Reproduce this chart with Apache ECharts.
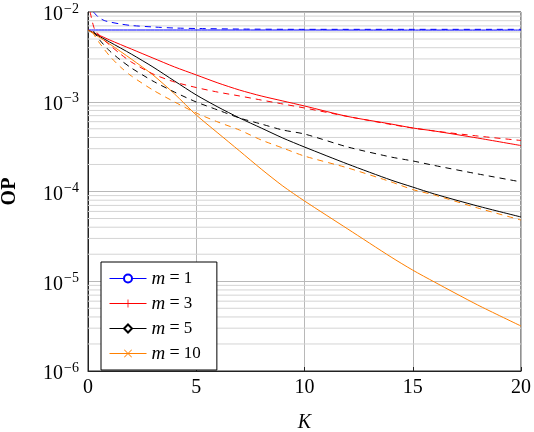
<!DOCTYPE html>
<html>
<head>
<meta charset="utf-8">
<script src="https://cdn.jsdelivr.net/npm/echarts@6/dist/echarts.min.js"></script>
<style>
html,body{margin:0;padding:0;background:#fff;}
#chart{width:534px;height:432px;}
</style>
</head>
<body>
<div id="chart"></div>
<script>
// ---- data ----
const legendNames = ['m = 1', 'm = 3', 'm = 5', 'm = 10'];
const xTicks = [0, 5, 10, 15, 20];
const yTicks = [1e-6, 1e-5, 1e-4, 1e-3, 1e-2];
const minorMantissas = [2, 3, 4, 5, 6, 7, 8, 9];

// solid curves
const kM1Solid = [0, 5, 10, 15, 20];
const m1Solid = [6.3e-3, 6.3e-3, 6.3e-3, 6.29e-3, 6.29e-3];
const kSolid = [0, 1, 2, 3, 4, 5, 6, 7, 8, 9, 10, 12, 14, 15, 16, 18, 20];
const m3Solid = [6.30e-3, 4.88e-3, 3.87e-3, 3.07e-3, 2.44e-3, 1.99e-3, 1.62e-3, 1.35e-3, 1.16e-3, 1.02e-3, 8.97e-4, 6.85e-4, 5.65e-4, 5.10e-4, 4.72e-4, 3.94e-4, 3.25e-4];
const m5Solid = [6.30e-3, 4.63e-3, 3.40e-3, 2.44e-3, 1.70e-3, 1.19e-3, 8.74e-4, 6.59e-4, 5.10e-4, 3.94e-4, 3.13e-4, 2.02e-4, 1.34e-4, 1.12e-4, 9.38e-5, 6.89e-5, 5.20e-5];
const m10Solid = [6.30e-3, 4.40e-3, 2.99e-3, 1.99e-3, 1.22e-3, 7.12e-4, 4.48e-4, 2.83e-4, 1.78e-4, 1.15e-4, 7.84e-5, 3.82e-5, 1.86e-5, 1.33e-5, 9.81e-6, 5.44e-6, 3.17e-6];

// dashed curves
const kM1Dashed = [0.25, 0.5, 0.75, 1, 1.5, 2, 3, 4, 5, 7, 10, 15, 20];
const m1Dashed = [1.0e-2, 8.68e-3, 8.04e-3, 7.74e-3, 7.35e-3, 7.07e-3, 6.81e-3, 6.63e-3, 6.55e-3, 6.46e-3, 6.41e-3, 6.41e-3, 6.41e-3];
const kM3Dashed = [0.1, 0.3, 0.6, 1, 1.5, 2, 3, 4, 5, 6, 7, 8, 9, 10, 12, 14, 15, 16, 18, 20];
const m3Dashed = [1.00e-2, 6.46e-3, 5.26e-3, 4.29e-3, 3.40e-3, 2.77e-3, 2.04e-3, 1.66e-3, 1.44e-3, 1.28e-3, 1.16e-3, 1.045e-3, 9.44e-4, 8.52e-4, 6.85e-4, 5.58e-4, 5.10e-4, 4.72e-4, 4.15e-4, 3.70e-4];
const kM5Dashed = [0.25, 0.5, 1, 1.5, 2, 3, 4, 5, 6, 7, 8, 9, 10, 12, 14, 15, 16, 18, 20];
const m5Dashed = [6.14e-3, 5.00e-3, 3.68e-3, 2.92e-3, 2.38e-3, 1.70e-3, 1.28e-3, 9.94e-4, 8.09e-4, 6.59e-4, 5.65e-4, 4.84e-4, 4.37e-4, 3.13e-4, 2.42e-4, 2.19e-4, 1.95e-4, 1.57e-4, 1.28e-4];
const kM10Dashed = [0.2, 0.5, 1, 1.5, 2, 3, 4, 5, 6, 7, 8, 9, 10, 12, 14, 15, 16, 18, 20];
const m10Dashed = [5.99e-3, 4.63e-3, 3.23e-3, 2.44e-3, 1.94e-3, 1.35e-3, 9.94e-4, 7.49e-4, 5.95e-4, 4.84e-4, 3.75e-4, 3.05e-4, 2.48e-4, 1.83e-4, 1.28e-4, 1.05e-4, 9.14e-5, 6.55e-5, 4.81e-5];

// ---- rendering ----
const SERIF = '"Liberation Serif", "DejaVu Serif", serif';
const colors = ['#0000ff', '#ff0000', '#000000', '#ff8000'];
const symbols = [
  'emptyCircle',
  'path://M4.5,0h1v10h-1z M0,4.5h10v1h-10z',
  'emptyDiamond',
  'path://M0.7,0 L5,4.3 L9.3,0 L10,0.7 L5.7,5 L10,9.3 L9.3,10 L5,5.7 L0.7,10 L0,9.3 L4.3,5 L0,0.7 Z'
];

function zip(xs, ys) { return xs.map((x, i) => [x, ys[i]]); }

// minor horizontal grid lines (2..9 x 10^e), drawn as broken line segments across the x range
const minorGridData = [];
for (let d = 0; d < yTicks.length - 1; d++) {
  minorMantissas.forEach(function (m) {
    const v = m * yTicks[d];
    minorGridData.push([xTicks[0], v], [xTicks[xTicks.length - 1], v], [xTicks[0], '-']);
  });
}

function line(idx, xs, ys, dashed) {
  return {
    name: legendNames[idx],
    type: 'line',
    data: zip(xs, ys),
    showSymbol: false,
    symbol: symbols[idx],
    symbolSize: 8,
    smooth: 0.25,
    clip: true,
    z: 3,
    color: colors[idx],
    itemStyle: { color: colors[idx], borderWidth: 1 },
    lineStyle: { color: colors[idx], width: 1, type: dashed ? [6, 5] : 'solid' }
  };
}

const series = [
  {
    name: 'minor-grid', type: 'line', data: minorGridData, z: 1, silent: true,
    symbol: 'none', showSymbol: false, connectNulls: false, smooth: false,
    lineStyle: { color: '#d4d4d4', width: 1, type: 'solid' },
    emphasis: { disabled: true }, tooltip: { show: false }
  },
  line(0, kM1Solid, m1Solid, false),
  line(1, kSolid, m3Solid, false),
  line(2, kSolid, m5Solid, false),
  line(3, kSolid, m10Solid, false),
  line(0, kM1Dashed, m1Dashed, true),
  line(1, kM3Dashed, m3Dashed, true),
  line(2, kM5Dashed, m5Dashed, true),
  line(3, kM10Dashed, m10Dashed, true)
];

const chart = echarts.init(document.getElementById('chart'), null, { renderer: 'canvas' });
chart.setOption({
  animation: false,
  backgroundColor: '#ffffff',
  grid: { left: 88, right: 13, top: 12, bottom: 61, outerBoundsMode: 'none', containLabel: false,
    show: true, borderColor: '#222', borderWidth: 1, backgroundColor: 'transparent' },
  legend: {
    data: legendNames,
    orient: 'vertical',
    left: 101, top: 262,
    padding: [7, 16, 7, 8],
    itemWidth: 37, itemHeight: 10, itemGap: 6,
    backgroundColor: '#ffffff',
    borderColor: '#000', borderWidth: 1, borderRadius: 0,
    selectedMode: false,
    lineStyle: { width: 1 },
    itemStyle: { borderWidth: 1 },
    formatter: function (name) { return '{i|m} {e|=} ' + name.split('= ')[1]; },
    textStyle: {
      fontFamily: SERIF, fontSize: 17, color: '#000', lineHeight: 16,
      rich: {
        i: { fontFamily: SERIF, fontStyle: 'italic', fontSize: 19, color: '#000' },
        e: { fontFamily: SERIF, fontSize: 18, color: '#000' }
      }
    }
  },
  xAxis: {
    type: 'value', min: 0, max: 20, interval: 5,
    name: 'K', nameLocation: 'middle', nameGap: 42,
    nameTextStyle: { fontFamily: SERIF, fontStyle: 'italic', fontSize: 20, color: '#000' },
    axisLine: { show: true, onZero: false, lineStyle: { color: '#222', width: 1 } },
    axisTick: { show: true, inside: true, length: 4, lineStyle: { color: '#222' } },
    axisLabel: { fontFamily: SERIF, fontSize: 20, color: '#000', margin: 7,
      formatter: function (v) { return xTicks.indexOf(v) >= 0 ? String(v) : ''; } },
    splitLine: { show: true, lineStyle: { color: '#b8b8b8', width: 1 } }
  },
  yAxis: {
    type: 'log', logBase: 10, min: yTicks[0], max: yTicks[yTicks.length - 1], interval: 1,
    name: 'OP', nameLocation: 'middle', nameGap: 68, nameRotate: 90,
    nameTextStyle: { fontFamily: SERIF, fontWeight: 'bold', fontSize: 20, color: '#000' },
    axisLine: { show: true, lineStyle: { color: '#222', width: 1 } },
    axisTick: { show: false },
    axisLabel: {
      fontFamily: SERIF, color: '#000', margin: 9,
      formatter: function (v) {
        const e = Math.round(Math.log10(v));
        return '{b|10}{s|\u2212' + Math.abs(e) + '}';
      },
      rich: {
        b: { fontFamily: SERIF, fontSize: 20, color: '#000', padding: [6, 0, 0, 0] },
        s: { fontFamily: SERIF, fontSize: 14, color: '#000', padding: [0, 0, 6, 1] }
      }
    },
    splitLine: { show: true, lineStyle: { color: '#b8b8b8', width: 1 } }
  },
  series: series
});
</script>
</body>
</html>
